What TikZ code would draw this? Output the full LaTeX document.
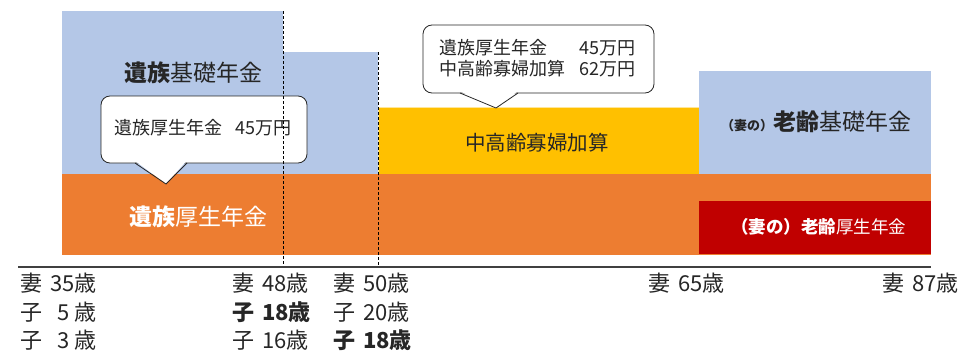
\documentclass[tikz,border=0pt]{standalone}
\usepackage{fontspec}
\setmainfont{Noto Sans CJK JP}
\definecolor{pblue}{HTML}{B4C7E7}
\definecolor{porange}{HTML}{ED7D31}
\definecolor{pyellow}{HTML}{FFC000}
\definecolor{pred}{HTML}{C00000}
\definecolor{txt}{HTML}{262626}
\tikzset{
  band/.style={fill=#1, draw=none},
  guide/.style={draw=black, line width=0.7pt, dash pattern=on 3pt off 2pt},
  axisline/.style={draw=black!75, line width=1.1pt},
  balloon/.style={fill=white, draw=black!85, line width=0.8pt, rounded corners=9pt},
  balloontip/.style={fill=white, draw=none},
  balloonedge/.style={draw=black!85, line width=0.8pt, line join=miter},
  lbl/.style={inner sep=0pt, text=txt, font=\fontsize{22}{24}\selectfont, anchor=west},
  tx/.style={inner sep=0pt, text=txt, font=\fontsize{#1}{#1}\selectfont},
}
\newcommand{\gapA}{\hspace{8pt}}
\begin{document}
\begin{tikzpicture}[x=1pt,y=-1pt]
\useasboundingbox (0,0) rectangle (980,364);
% corner coordinates
\coordinate (b1a) at (62,11);   \coordinate (b1b) at (283,174);
\coordinate (b2a) at (283,52);  \coordinate (b2b) at (378,174);
\coordinate (y1a) at (378,107); \coordinate (y1b) at (699,174);
\coordinate (b3a) at (699,71);  \coordinate (b3b) at (931,174);
\coordinate (o1a) at (62,174);  \coordinate (o1b) at (931,255);
\coordinate (r1a) at (699,201); \coordinate (r1b) at (931,254);
\coordinate (ax0) at (18,267);  \coordinate (ax1) at (931,267);
\coordinate (d1a) at (283,11);  \coordinate (d1b) at (283,268);
\coordinate (d2a) at (378,52);  \coordinate (d2b) at (378,268);
% bands
\path[band=pblue] (b1a) rectangle (b1b);
\path[band=pblue] (b2a) rectangle (b2b);
\path[band=pyellow, draw=pyellow!40!white, line width=0.6pt] (y1a) rectangle (y1b);
\path[band=pblue] (b3a) rectangle (b3b);
\path[band=porange] (o1a) rectangle (o1b);
\path[band=pred] (r1a) rectangle (r1b);
% band labels
\node[tx=23] (t1) at (193.5,73) {\textbf{遺族}基礎年金};
\node[tx=23, text=white] (t2) at (198,217) {\textbf{遺族}厚生年金};
\node[tx=20.5] (t3) at (537,143) {中高齢寡婦加算};
\node[tx=23, anchor=west] (t4) at (721,122) {{\fontsize{13}{13}\selectfont\textbf{（妻の）}}\textbf{老齢}基礎年金};
\node[tx=17.5, text=white] (t5) at (818.5,227) {\textbf{（妻の）老齢}厚生年金};
% balloon 1
\path[balloon] (101,96) rectangle (307,163);
\coordinate (p1l) at (135,163); \coordinate (p1t) at (166,184); \coordinate (p1r) at (187,163);
\path[balloontip] (136.5,162) -- (p1t) -- (185.5,162) -- cycle;
\draw[balloonedge] (p1l) -- (p1t) -- (p1r);
\node[tx=18, anchor=west] (c1a) at (114,128) {遺族厚生年金};
\node[tx=18, anchor=east] (c1b) at (292,128) {45万円};
% balloon 2
\path[balloon] (423,25) rectangle (654,93);
\coordinate (p2l) at (460,93); \coordinate (p2t) at (496,108); \coordinate (p2r) at (518,93);
\path[balloontip] (461.5,92) -- (p2t) -- (516.5,92) -- cycle;
\draw[balloonedge] (p2l) -- (p2t) -- (p2r);
\node[tx=18, anchor=west] (c2a) at (439,48) {遺族厚生年金};
\node[tx=18, anchor=east] (c2b) at (636,48) {45万円};
\node[tx=18, anchor=west] (c2c) at (439,69) {中高齢寡婦加算};
\node[tx=18, anchor=east] (c2d) at (636,69) {62万円};
% guides and axis
\draw[guide] (d1a) -- (d1b);
\draw[guide] (d2a) -- (d2b);
\draw[axisline] (ax0) -- (ax1);
% ages
\node[lbl] (a11) at (20,283) {妻\gapA 35歳};
\node[lbl] (a12) at (20,312) {子\hspace{15pt}5\hspace{5pt}歳};
\node[lbl] (a13) at (20,340) {子\hspace{15pt}3\hspace{5pt}歳};
\node[lbl] (a21) at (232,283) {妻\gapA 48歳};
\node[lbl] (a22) at (232,312) {\textbf{子\gapA 18歳}};
\node[lbl] (a23) at (232,340) {子\gapA 16歳};
\node[lbl] (a31) at (333,283) {妻\gapA 50歳};
\node[lbl] (a32) at (333,312) {子\gapA 20歳};
\node[lbl] (a33) at (333,340) {\textbf{子\gapA 18歳}};
\node[lbl] (a41) at (648,283) {妻\gapA 65歳};
\node[lbl] (a51) at (882,283) {妻\gapA 87歳};
\end{tikzpicture}
\end{document}
